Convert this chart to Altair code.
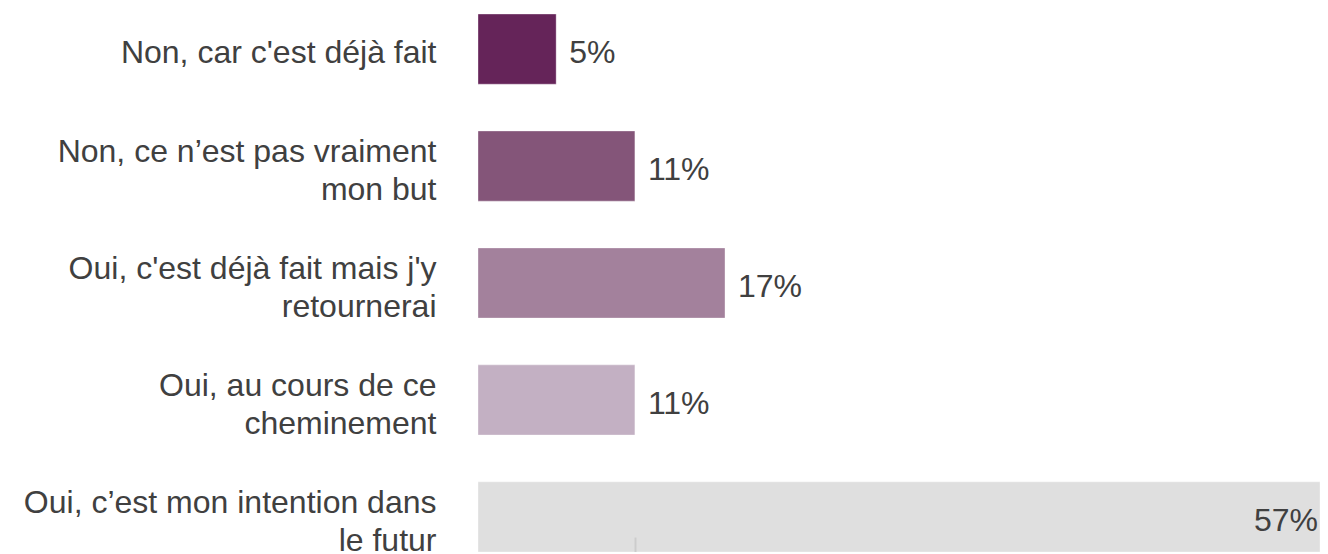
import altair as alt
import pandas as pd

categories = [
    "Non, car c'est déjà fait",
    "Non, ce n’est pas vraiment|mon but",
    "Oui, c'est déjà fait mais j'y|retournerai",
    "Oui, au cours de ce|cheminement",
    "Oui, c’est mon intention dans|le futur",
]
values = [5.3, 10.64, 16.75, 10.64, 57.1]
value_labels = ["5%", "11%", "17%", "11%", "57%"]
colors = ["#652459", "#845579", "#a3819c", "#c3b0c3", "#dfdfdf"]

df = pd.DataFrame({
    "cat": categories,
    "val": values,
    "lab": value_labels,
    "col": colors,
    "inside": [False, False, False, False, True],
})

FONT = "Liberation Sans"
FS = 32

y = alt.Y(
    "cat:N",
    sort=categories,
    scale=alt.Scale(paddingInner=0.4, paddingOuter=0),
    axis=alt.Axis(
        title=None,
        domain=False,
        ticks=False,
        labelExpr="split(datum.label, '|')",
        labelFont=FONT,
        labelFontSize=FS,
        labelLineHeight=38,
        labelColor="#404040",
        labelPadding=42,
        labelLimit=600,
        labelOffset={"condition": {"test": "indexof(datum.value, '|') >= 0", "value": -14}, "value": 4},
    ),
)

x = alt.X(
    "val:Q",
    scale=alt.Scale(domain=[0, max(values)], nice=False, zero=True),
    axis=alt.Axis(
        title=None,
        values=[values[1]],
        labels=False,
        domain=False,
        grid=False,
        tickSize=20,
        tickWidth=2,
        tickColor="#cccccc",
        offset=-15,
        zindex=1,
    ),
)

bars = alt.Chart(df).mark_bar(strokeWidth=1, strokeOpacity=0.35, stroke="#ffffff").encode(
    x=x,
    y=y,
    color=alt.Color("col:N", scale=None),
)

outside = alt.Chart(df).transform_filter("!datum.inside").mark_text(
    align="left", baseline="middle", dx=13, dy=4, font=FONT, fontSize=FS, color="#404040"
).encode(x="val:Q", y=alt.Y("cat:N", sort=categories), text="lab:N")

inside = alt.Chart(df).transform_filter("datum.inside").mark_text(
    align="right", baseline="middle", dx=-2, dy=4, font=FONT, fontSize=FS, color="#404040"
).encode(x="val:Q", y=alt.Y("cat:N", sort=categories), text="lab:N")

chart = (
    alt.layer(bars, outside, inside)
    .properties(
        width=842,
        height=538,
        autosize=alt.AutoSizeParams(type="none"),
        padding={"left": 470, "top": 6, "right": 0, "bottom": 0},
        background="#ffffff",
    )
    .configure_view(stroke=None)
)

chart.save("out.html", embed_options={"renderer": "svg", "actions": False})
